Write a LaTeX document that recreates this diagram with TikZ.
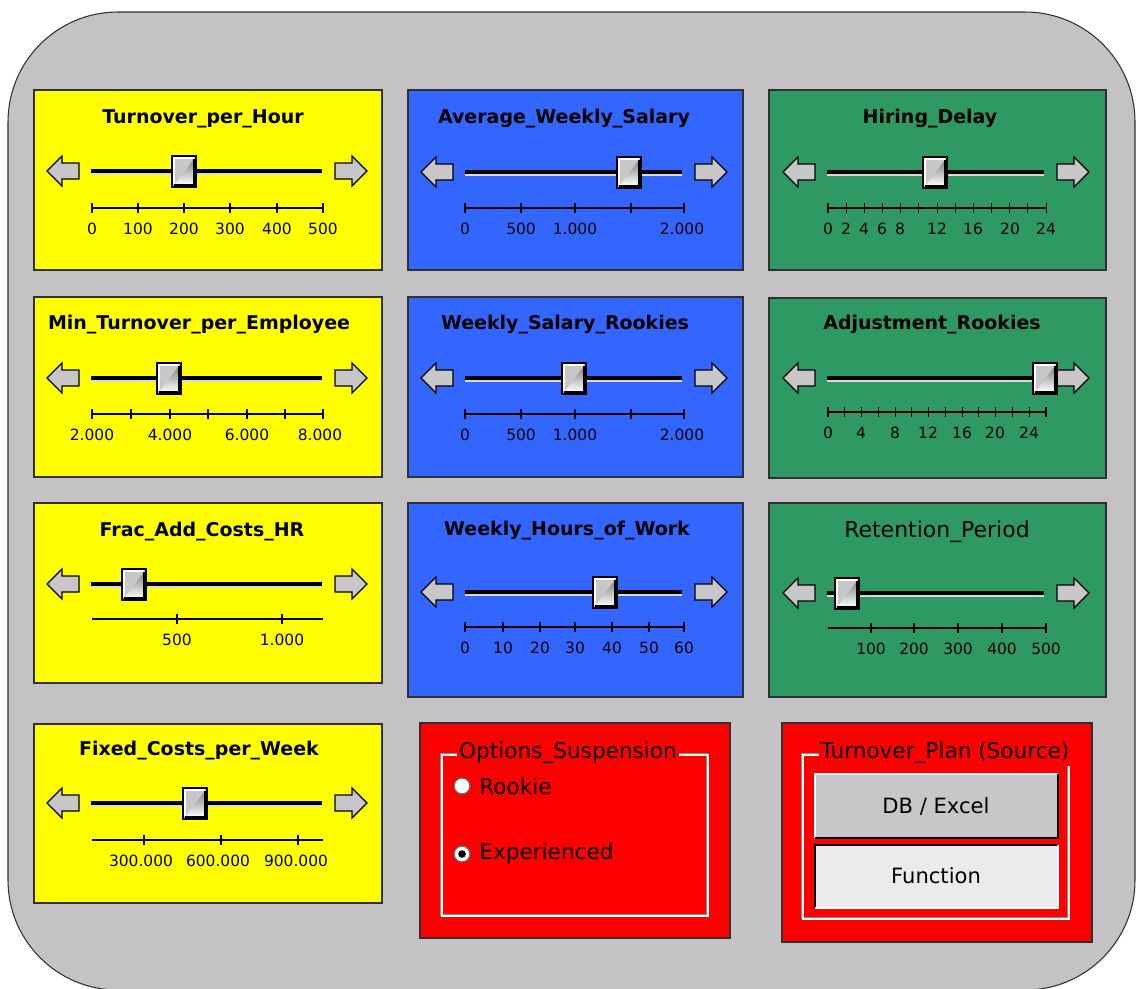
\documentclass[tikz,border=0pt]{standalone}
\usepackage{fontspec}
\setmainfont{DejaVu Sans}
\usepackage{tikz}
\definecolor{bg}{HTML}{C4C2C5}
\definecolor{knob}{HTML}{C8C6C9}
\definecolor{yel}{HTML}{FFFF00}
\definecolor{blu}{HTML}{3366FF}
\definecolor{grn}{HTML}{2E9963}
\definecolor{rd}{HTML}{FF0000}
\definecolor{frame}{HTML}{303030}
\definecolor{shade}{HTML}{6E6E6E}
\tikzset{
  panel/.style={draw=frame, line width=0.6pt},
  ttl/.style={font=\fontsize{10.8}{12}\selectfont\bfseries, inner sep=0pt, yshift=-0.05cm},
  bigttl/.style={font=\fontsize{12.5}{14}\selectfont, inner sep=0pt, yshift=-0.05cm},
  num/.style={font=\fontsize{8.8}{10}\selectfont, inner sep=0pt},
  track/.style={draw=black, line width=2.1pt},
  trackhi/.style={draw=white!85!black, line width=1pt},
  axis/.style={draw=black, line width=0.6pt},
  arrowbtn/.style={fill=knob, draw=black, line width=0.7pt, line join=miter},
  thumb/.style={fill=knob, draw=black, line width=0.7pt},
  grp/.style={draw=white, line width=0.9pt},
  grpshade/.style={draw=black!45, line width=0.6pt},
  grptitle/.style={fill=rd, inner sep=1pt, font=\fontsize{12.3}{14}\selectfont},
  opt/.style={font=\fontsize{12.3}{14}\selectfont, anchor=west, inner sep=0pt},
  btn/.style={font=\fontsize{12}{14}\selectfont, inner sep=0pt},
  radio/.style={fill=white, draw=black!60, line width=0.7pt}
}
% arrows, track and thumb: track from #1 to #2 at height #3, thumb at #4
\newcommand{\sliderbar}[4]{%
  \draw[trackhi] (#1,#3+3) -- (#2,#3+3);
  \draw[track] (#1,#3) -- (#2,#3);
  \draw[arrowbtn] (#1-44,#3) -- ++(15,-15) -- ++(0,7) -- ++(17,0) -- ++(0,16)
    -- ++(-17,0) -- ++(0,7) -- cycle;
  \draw[arrowbtn] (#2+45,#3) -- ++(-15,-15) -- ++(0,7) -- ++(-17,0) -- ++(0,16)
    -- ++(17,0) -- ++(0,7) -- cycle;
  \draw[thumb] (#4-12,#3-15) rectangle (#4+12,#3+16);
  \draw[white, line width=0.8pt] (#4-10,#3+13) -- (#4-10,#3-13) -- (#4+10,#3-13);
  \draw[shade, line width=1pt] (#4-10,#3+14) -- (#4+10,#3+14) -- (#4+10,#3-12);
}
% scale: name #1, axis from #2 to #3 at height #4, ticks #5, labels #6
\newcommand{\sliderscale}[6]{%
  \draw[axis] (#2,#4) -- (#3,#4);
  \foreach \t in {#5} \draw[axis] (\t,#4-5) -- (\t,#4+5);
  \foreach \t/\l [count=\k] in {#6} \node[num] (#1-\k) at (\t,#4+21) {\l};
}

\begin{document}
\begin{tikzpicture}[x=0.02cm, y=-0.02cm]
  \useasboundingbox (0,0) rectangle (1136,988);
  \fill[white] (0,0) rectangle (1136,988);
  \draw[fill=bg, draw=frame, line width=0.6pt, rounded corners=2.2cm] (8,12) rectangle (1135,990);

  % yellow column
  \draw[panel, fill=yel] (34,90) rectangle (382,270);
  \node[ttl] (tph) at (203,116) {Turnover\_per\_Hour};
  \sliderbar{91}{322}{171}{184}
  \sliderscale{tph}{92}{323}{208}{92,138,184,230,277,323}
    {92/0,138/100,184/200,230/300,277/400,323/500}

  \draw[panel, fill=yel] (34,297) rectangle (382,477);
  \node[ttl] (mtpe) at (199,322) {Min\_Turnover\_per\_Employee};
  \sliderbar{91}{322}{378}{169}
  \sliderscale{mtpe}{92}{323}{414}{92,131,170,208,247,285,323}
    {92/2.000,170/4.000,247/6.000,320/8.000}

  \draw[panel, fill=yel] (34,503) rectangle (382,683);
  \node[ttl] (fach) at (202,529) {Frac\_Add\_Costs\_HR};
  \sliderbar{91}{322}{584}{134}
  \sliderscale{fach}{92}{323}{619}{177,282}{177/500,282/1.000}

  \draw[panel, fill=yel] (34,724) rectangle (382,903);
  \node[ttl] (fcpw) at (199,748) {Fixed\_Costs\_per\_Week};
  \sliderbar{91}{322}{803}{195}
  \sliderscale{fcpw}{92}{323}{840}{144,221,298}
    {141/300.000,218/600.000,296/900.000}

  % blue column
  \draw[panel, fill=blu] (408,90) rectangle (743,270);
  \node[ttl] (aws) at (564,116) {Average\_Weekly\_Salary};
  \sliderbar{465}{682}{172}{629}
  \sliderscale{aws}{465}{684}{208}{465,521,575,631,684}
    {465/0,521/500,575/1.000,682/2.000}

  \draw[panel, fill=blu] (408,297) rectangle (743,477);
  \node[ttl] (wsr) at (565,322) {Weekly\_Salary\_Rookies};
  \sliderbar{465}{682}{378}{574}
  \sliderscale{wsr}{465}{684}{414}{465,521,575,631,684}
    {465/0,521/500,575/1.000,682/2.000}

  \draw[panel, fill=blu] (408,503) rectangle (743,697);
  \node[ttl] (whw) at (567,528) {Weekly\_Hours\_of\_Work};
  \sliderbar{465}{682}{592}{605}
  \sliderscale{whw}{465}{684}{627}{465,503,540,575,612,649,684}
    {465/0,503/10,540/20,575/30,612/40,649/50,684/60}

  % green column
  \draw[panel, fill=grn] (769,90) rectangle (1106,270);
  \node[ttl] (hd) at (930,116) {Hiring\_Delay};
  \sliderbar{827}{1044}{172}{935}
  \sliderscale{hd}{828}{1046}{208}{828,846.17,...,1047}
    {828/0,846/2,864/4,882/6,900/8,937/12,973/16,1010/20,1046/24}

  \draw[panel, fill=grn] (769,298) rectangle (1106,478);
  \node[ttl] (adr) at (932,322) {Adjustment\_Rookies};
  \sliderbar{827}{1044}{378}{1045}
  \sliderscale{adr}{828}{1046}{412}{828,844.77,...,1047}
    {828/0,861/4,895/8,928/12,962/16,995/20,1029/24}

  \draw[panel, fill=grn] (769,503) rectangle (1106,697);
  \node[bigttl] (rp) at (937,529) {Retention\_Period};
  \sliderbar{827}{1044}{593}{847}
  \sliderscale{rp}{828}{1046}{628}{871,914,958,1002,1046}
    {871/100,914/200,958/300,1002/400,1046/500}

  % red option panels
  \draw[panel, fill=rd] (420,723) rectangle (730,938);
  \draw[grpshade] (441,754) rectangle (707,915);
  \draw[grp] (442,755) rectangle (708,916);
  \node[grptitle] (os) at (568,753) {Options\_Suspension};
  \draw[radio] (462,786) circle (8);
  \node[opt] (rookie) at (479,786) {Rookie};
  \draw[radio] (462,854) circle (8);
  \fill[black] (462,854) circle (3.8);
  \node[opt] (exp) at (479,854) {Experienced};

  \draw[panel, fill=rd] (782,723) rectangle (1092,942);
  \draw[grpshade] (802,754) rectangle (1068,918);
  \draw[grp] (803,755) rectangle (1069,919);
  \node[grptitle] (tp) at (945,753) {Turnover\_Plan (Source)};
  \fill[knob] (815,774) rectangle (1058,838);
  \draw[white, line width=1.2pt] (815,838) -- (815,774) -- (1058,774);
  \draw[black, line width=1.6pt] (815,838) -- (1058,838) -- (1058,774);
  \node[btn] (dbx) at (936,806) {DB / Excel};
  \fill[black!8] (815,845) rectangle (1058,908);
  \draw[black, line width=1.6pt] (815,908) -- (815,845) -- (1058,845);
  \draw[white, line width=1.2pt] (815,908) -- (1058,908) -- (1058,845);
  \node[btn] (fn) at (936,876) {Function};
\end{tikzpicture}
\end{document}
